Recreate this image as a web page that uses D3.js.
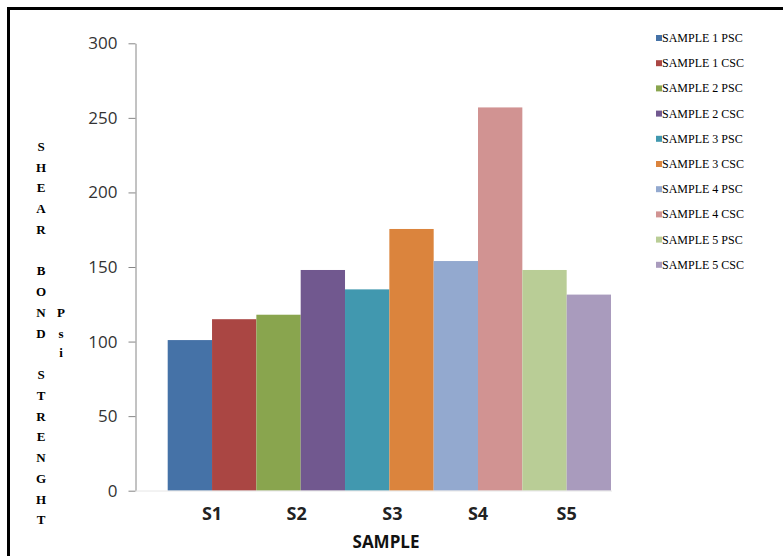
<!DOCTYPE html>
<html>
<head>
<meta charset="utf-8">
<script src="https://cdn.jsdelivr.net/npm/d3@7"></script>
<style>
  html, body { margin: 0; padding: 0; background: #fff; }
  svg { display: block; }
</style>
</head>
<body>
<svg id="chart" width="783" height="556"></svg>
<script>
const categories = ["S1", "S2", "S3", "S4", "S5"];
const seriesNames = ["SAMPLE 1 PSC", "SAMPLE 1 CSC", "SAMPLE 2 PSC", "SAMPLE 2 CSC", "SAMPLE 3 PSC",
                     "SAMPLE 3 CSC", "SAMPLE 4 PSC", "SAMPLE 4 CSC", "SAMPLE 5 PSC", "SAMPLE 5 CSC"];
const values = [101, 115, 118, 148, 135, 175.5, 154, 257, 148, 131.5];
const yTicks = [0, 50, 100, 150, 200, 250, 300];
const colors = ["#4572A7", "#AA4643", "#89A54E", "#71588F", "#4198AF",
                "#DB843D", "#93A9CF", "#D19392", "#B9CD96", "#A99BBD"];
const yLabelLetters = ["S","H","E","A","R","","B","O","N","D","","S","T","R","E","N","G","H","T"];
const unitLetters = ["P", "s", "i"];
const xTitle = "SAMPLE";

const svg = d3.select("#chart");

// outer frame (thick black on top and left)
svg.append("path")
  .attr("d", "M8.5,560 L8.5,8.5 L790,8.5")
  .attr("fill", "none").attr("stroke", "#000").attr("stroke-width", 3);

const x = d3.scaleBand().domain(seriesNames).range([167.7, 611]).padding(0);
const y = d3.scaleLinear().domain([0, 300]).range([490.7, 43.3]);
const color = d3.scaleOrdinal().domain(seriesNames).range(colors);

// y axis
const yAxis = d3.axisLeft(y).tickValues(yTicks).tickSize(7).tickPadding(11).tickSizeOuter(0);
const gy = svg.append("g").attr("transform", "translate(135.5,0)").call(yAxis);
gy.select(".domain").attr("stroke", "#868686");
gy.selectAll(".tick line").attr("stroke", "#868686");
gy.selectAll(".tick text")
  .attr("font-family", "'Open Sans', sans-serif")
  .attr("font-size", 17)
  .attr("fill", "#333");

// bars
svg.append("g").selectAll("rect")
  .data(seriesNames.map((s, i) => ({ s, v: values[i] })))
  .join("rect")
  .attr("x", d => x(d.s))
  .attr("y", d => y(d.v))
  .attr("width", x.bandwidth())
  .attr("height", d => y(0) - y(d.v))
  .attr("fill", d => color(d.s));

// baseline of x axis (light)
svg.append("line")
  .attr("x1", 135.5).attr("x2", 612).attr("y1", 491).attr("y2", 491)
  .attr("stroke", "#e6e6e6").attr("stroke-width", 1);

// category labels (slight manual nudges as in the reference)
const labelShift = [0, -4, 3, 0, 0];
svg.append("g").selectAll("text")
  .data(categories)
  .join("text")
  .attr("x", (c, i) => x(seriesNames[2 * i]) + x.bandwidth() + labelShift[i])
  .attr("y", 520)
  .attr("text-anchor", "middle")
  .attr("font-family", "'Open Sans', sans-serif")
  .attr("font-weight", "bold")
  .attr("font-size", 18)
  .attr("fill", "#222")
  .text(d => d);

// x title
svg.append("text")
  .attr("x", 386).attr("y", 548)
  .attr("text-anchor", "middle")
  .attr("font-family", "'Open Sans', sans-serif")
  .attr("font-weight", "bold")
  .attr("font-size", 17)
  .attr("fill", "#111")
  .text(xTitle);

// vertical y title letters
svg.append("g").selectAll("text")
  .data(yLabelLetters)
  .join("text")
  .attr("x", 41)
  .attr("y", (d, i) => 151 + i * 20.74)
  .attr("text-anchor", "middle")
  .attr("font-family", "'Liberation Serif', 'Times New Roman', serif")
  .attr("font-weight", "bold")
  .attr("font-size", 13)
  .attr("fill", "#000")
  .text(d => d);

const unitY = [317, 338, 357];
svg.append("g").selectAll("text")
  .data(unitLetters)
  .join("text")
  .attr("x", 61)
  .attr("y", (d, i) => unitY[i])
  .attr("text-anchor", "middle")
  .attr("font-family", "'Liberation Serif', 'Times New Roman', serif")
  .attr("font-weight", "bold")
  .attr("font-size", 13)
  .attr("fill", "#000")
  .text(d => d);

// legend
const lg = svg.append("g").selectAll("g")
  .data(seriesNames)
  .join("g")
  .attr("transform", (d, i) => `translate(656,${42 + i * 25.2})`);
lg.append("rect")
  .attr("x", 0).attr("y", -7).attr("width", 6).attr("height", 6)
  .attr("fill", d => color(d));
lg.append("text")
  .attr("x", 6).attr("y", 0)
  .attr("font-family", "'Liberation Serif', 'Times New Roman', serif")
  .attr("font-size", 12)
  .attr("fill", "#000")
  .text(d => d);
</script>
</body>
</html>
